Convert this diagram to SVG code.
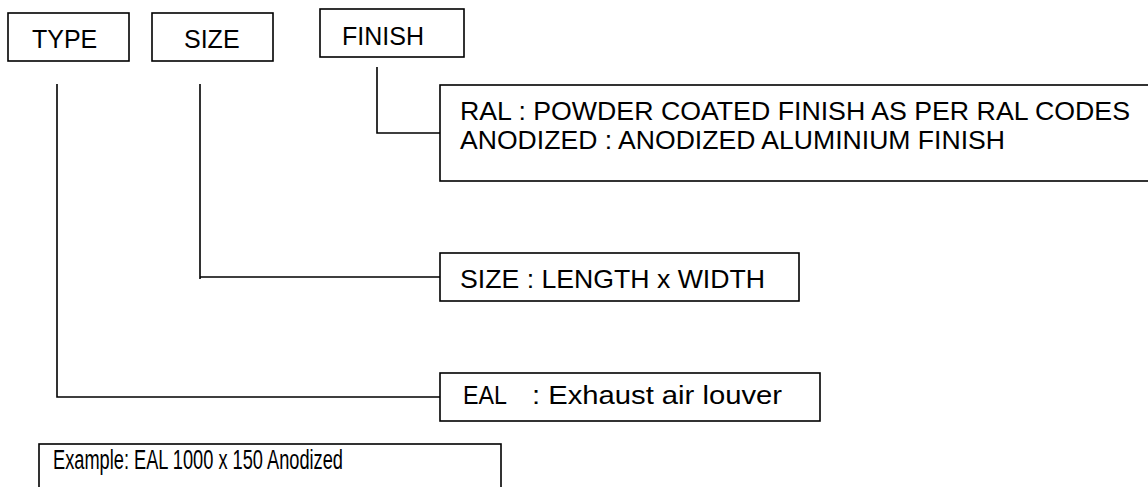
<svg xmlns="http://www.w3.org/2000/svg" width="1148" height="487" viewBox="0 0 1148 487">
<style>
.box{fill:#fff;stroke:#000;stroke-width:1.6}
.ln{fill:none;stroke:#000;stroke-width:1.6}
text{font-family:"Liberation Sans",Arial,sans-serif;font-size:25px;fill:#000}
.d{font-size:26.5px}
.r{font-size:25.5px}
.ex{font-size:27px}
</style>
<rect width="1148" height="487" fill="#fff"/>
<g id="connectors">
<path class="ln" d="M57,84 V397 H440"/>
<path class="ln" d="M200,84 V279 M200,277 H440"/>
<path class="ln" d="M377,67 V133 H447"/>
</g>
<g id="type"><rect class="box" x="8" y="13" width="121" height="48"/><text x="32" y="48">TYPE</text></g>
<g id="size"><rect class="box" x="152" y="13" width="121" height="48"/><text x="184" y="48">SIZE</text></g>
<g id="finish"><rect class="box" x="320" y="9" width="144" height="48"/><text x="342" y="45">FINISH</text></g>
<g id="finish-desc"><rect class="box" x="440" y="85" width="720" height="96"/><text class="r" x="460" y="120" textLength="670" lengthAdjust="spacingAndGlyphs">RAL : POWDER COATED FINISH AS PER RAL CODES</text><text class="r" x="460" y="149" textLength="545" lengthAdjust="spacingAndGlyphs">ANODIZED : ANODIZED ALUMINIUM FINISH</text></g>
<g id="size-desc"><rect class="box" x="440" y="253" width="359" height="48"/><text class="d" x="460" y="288" textLength="305" lengthAdjust="spacingAndGlyphs">SIZE : LENGTH x WIDTH</text></g>
<g id="type-desc"><rect class="box" x="440" y="373" width="380" height="48"/><text class="d" x="463" y="404" textLength="44" lengthAdjust="spacingAndGlyphs">EAL</text><text class="d" x="532" y="404" textLength="250" lengthAdjust="spacingAndGlyphs">: Exhaust air louver</text></g>
<g id="example"><rect class="box" x="39" y="444" width="462" height="60"/><text class="ex" x="53" y="469" textLength="290" lengthAdjust="spacingAndGlyphs">Example: EAL 1000 x 150 Anodized</text></g>
</svg>
